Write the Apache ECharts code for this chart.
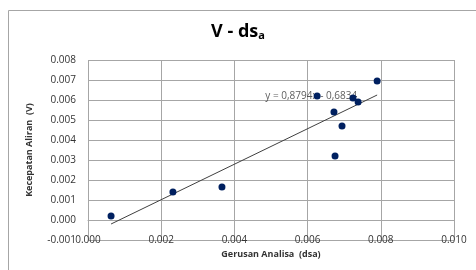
<!DOCTYPE html>
<html>
<head>
<meta charset="utf-8">
<script src="https://cdn.jsdelivr.net/npm/echarts@6/dist/echarts.min.js"></script>
<style>
html,body{margin:0;padding:0;background:#fff;}
#chart{width:476px;height:270px;}
</style>
</head>
<body>
<div id="chart"></div>
<script>
// data
var dsa = [0.00063, 0.00232, 0.00366, 0.00626, 0.00672, 0.00675, 0.00694, 0.00724, 0.00738, 0.0079];
var vel = [0.0002, 0.0014, 0.00165, 0.0062, 0.0054, 0.0032, 0.0047, 0.0061, 0.0059, 0.00695];
var trendX = [0.00063, 0.0079];
var trendY = [-0.0002, 0.00625];
var eqText = 'y = 0,8794x - 0,6834';
var eqPos = [0.0061, 0.0062];

var pts = [];
for (var i = 0; i < dsa.length; i++) pts.push([dsa[i], vel[i]]);
var trend = [];
for (var j = 0; j < trendX.length; j++) trend.push([trendX[j], trendY[j]]);

var chart = echarts.init(document.getElementById('chart'));
var font = 'Open Sans, Liberation Sans, sans-serif';
var option = {
    backgroundColor: '#fff',
    animation: false,
    graphic: [{
        type: 'rect',
        shape: {x: 8.5, y: 10.5, width: 480, height: 280},
        style: {fill: 'none', stroke: '#a6a6a6', lineWidth: 1},
        z: -10
    }],
    title: {
        text: '{a|V - ds}{b|a}',
        left: 'center',
        top: 17,
        textStyle: {
            rich: {
                a: {fontSize: 18, fontWeight: 'bold', color: '#000', fontFamily: font},
                b: {fontSize: 11, fontWeight: 'bold', color: '#000', fontFamily: font, verticalAlign: 'bottom', padding: [8, 0, 0, 0]}
            }
        }
    },
    grid: {left: 88, right: 22, top: 60, bottom: 30},
    xAxis: {
        type: 'value',
        min: 0, max: 0.01, interval: 0.002,
        name: 'Gerusan Analisa  (dsa)',
        nameLocation: 'middle',
        nameGap: 8,
        nameTextStyle: {fontSize: 9, fontWeight: 'bold', color: '#333', fontFamily: font},
        axisLine: {show: true, lineStyle: {color: '#a6a6a6'}},
        axisTick: {show: false},
        axisLabel: {
            margin: -5, fontSize: 10, color: '#333', fontFamily: font,
            formatter: function (v) { return v.toFixed(3); }
        },
        splitLine: {show: true, lineStyle: {color: '#a6a6a6'}}
    },
    yAxis: {
        type: 'value',
        min: -0.001, max: 0.008, interval: 0.001,
        name: 'Kecepatan Aliran  (V)',
        nameLocation: 'middle',
        nameGap: 54,
        nameTextStyle: {fontSize: 9, fontWeight: 'bold', color: '#333', fontFamily: font},
        axisLine: {show: false},
        axisTick: {show: false},
        axisLabel: {
            margin: 12, fontSize: 10, color: '#333', fontFamily: font,
            formatter: function (v) { return v.toFixed(3); }
        },
        splitLine: {show: true, lineStyle: {color: '#a6a6a6'}}
    },
    series: [
        {
            type: 'line',
            data: trend,
            symbol: 'none',
            lineStyle: {color: '#404040', width: 1},
            z: 2
        },
        {
            type: 'scatter',
            data: [eqPos],
            symbolSize: 0,
            label: {
                show: true, position: 'inside', formatter: eqText,
                fontSize: 10, color: '#333', fontFamily: font
            },
            z: 3
        },
        {
            type: 'scatter',
            data: pts,
            symbolSize: 7,
            itemStyle: {color: '#002060', opacity: 1},
            z: 4
        }
    ]
};
chart.setOption(option);
</script>
</body>
</html>
